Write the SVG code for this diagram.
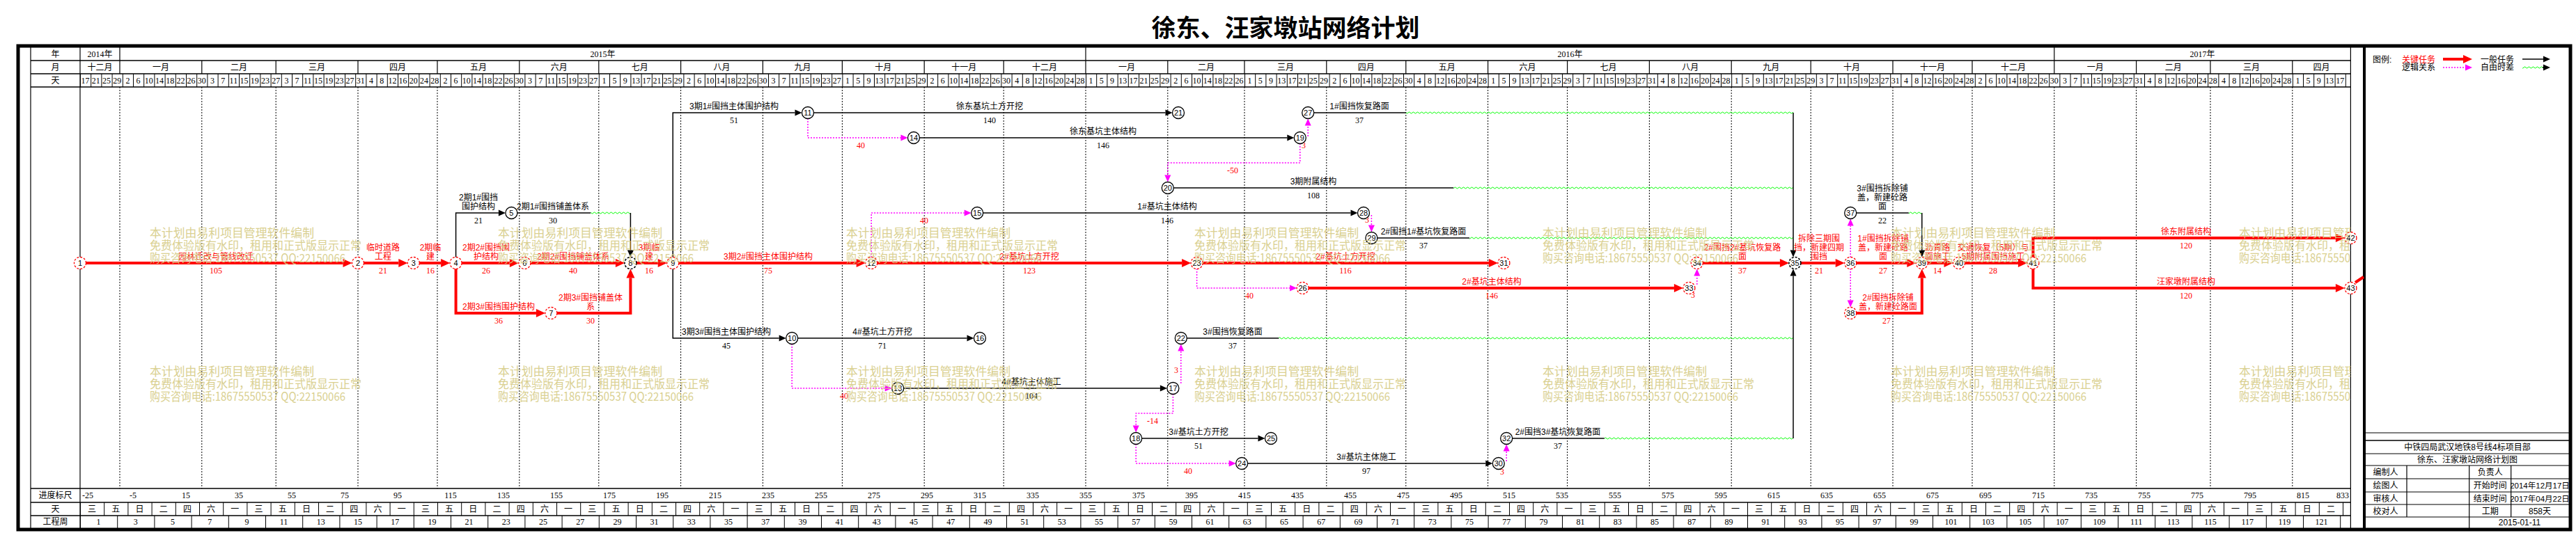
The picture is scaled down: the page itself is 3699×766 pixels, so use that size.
<svg xmlns="http://www.w3.org/2000/svg" width="3699" height="766" viewBox="0 0 3699 766">
<style>
.fr{fill:none;stroke:#000;stroke-width:5}
.ln{fill:none;stroke:#000;stroke-width:1.2}
.lt{fill:none;stroke:#000;stroke-width:1.6}
.gd{fill:none;stroke:#000;stroke-width:1;stroke-dasharray:2 2}
.hd{font-family:"Liberation Serif","Noto Sans CJK SC",serif;font-size:12px;fill:#000;text-anchor:middle}
.lb{font-family:"Liberation Sans","Noto Sans CJK SC",sans-serif;font-size:12px;text-anchor:middle}
.du{font-family:"Liberation Serif",serif;font-size:12px;text-anchor:middle}
.lg{font-family:"Liberation Sans","Noto Sans CJK SC",sans-serif;font-size:12px;fill:#000}
.tb{font-family:"Liberation Sans","Noto Sans CJK SC",sans-serif;font-size:12px;fill:#000;text-anchor:middle}
.ttl{font-family:"Noto Sans CJK SC",sans-serif;font-size:35px;font-weight:bold;fill:#000;text-anchor:middle}
.r{fill:#f00}
.k{fill:#000}
.c{fill:none;stroke:#f00;stroke-width:4;marker-end:url(#mr)}
.c0{fill:none;stroke:#f00;stroke-width:4}
.g{fill:none;stroke:#000;stroke-width:1.5;marker-end:url(#mb)}
.g0{fill:none;stroke:#000;stroke-width:1.5}
.l{fill:none;stroke:#f0f;stroke-width:1.5;stroke-dasharray:2 2;marker-end:url(#mm)}
.w{fill:url(#wave)}
.nc{fill:#fff;stroke:#f00;stroke-width:1.3;stroke-dasharray:3 2}
.ng{fill:#fff;stroke:#000;stroke-width:1.3}
.nk{fill:#fff;stroke:#000;stroke-width:1.6;stroke-dasharray:3 2}
.nn{font-family:"Liberation Sans",sans-serif;font-size:11px;text-anchor:middle;fill:#000}
.wm{font-family:"Noto Sans CJK SC",sans-serif;font-size:17px;fill:#d6cc86;opacity:.9}
</style>
<defs>
<marker id="mr" markerUnits="userSpaceOnUse" markerWidth="14" markerHeight="12" refX="0" refY="6" orient="auto" overflow="visible"><path d="M0,0 L13,6 L0,12z" fill="#f00"/></marker>
<marker id="mb" markerUnits="userSpaceOnUse" markerWidth="11" markerHeight="9" refX="0" refY="4.5" orient="auto" overflow="visible"><path d="M0,0 L10,4.5 L0,9z" fill="#000"/></marker>
<marker id="mm" markerUnits="userSpaceOnUse" markerWidth="11" markerHeight="9" refX="0" refY="4.5" orient="auto" overflow="visible"><path d="M0,0 L10,4.5 L0,9z" fill="#f0f"/></marker>
<pattern id="wave" patternUnits="userSpaceOnUse" x="0" y="-2" width="6" height="4"><path d="M0,2 Q1.5,0 3,2 T6,2" fill="none" stroke="#00ff00" stroke-width="1"/></pattern>
<pattern id="p4" patternUnits="userSpaceOnUse" x="115" y="0" width="15.2" height="20"><rect x="0" y="0" width="1" height="20" fill="#000"/></pattern>
<pattern id="p9" patternUnits="userSpaceOnUse" x="115" y="0" width="34.2" height="20"><rect x="0" y="0" width="1" height="20" fill="#000"/></pattern>
<pattern id="p14" patternUnits="userSpaceOnUse" x="115" y="0" width="53.2" height="20"><rect x="0" y="0" width="1" height="20" fill="#000"/></pattern>
<clipPath id="chart"><rect x="115" y="125" width="3260.4" height="577"/></clipPath>
</defs>
<rect x="0" y="0" width="3699" height="766" fill="#fff"/>
<text class="ttl" x="1846" y="53">徐东、汪家墩站网络计划</text>

<g id="frame">
<rect class="fr" x="26" y="66" width="3665" height="695"/>
<path class="ln" d="M44,66V761M115,68V759M3375.4,68V759"/>
<path d="M3395,66V761" stroke="#000" stroke-width="4"/>
<path class="lt" d="M44,87H3375.4M44,106H3375.4M44,125H3375.4M44,702H3375.4M44,722H3375.4M44,741H3375.4"/>
</g>

<g id="header">
<path class="ln" d="M172,68V87M1559,68V87M2949.8,68V87"/>
<path class="ln" d="M172 87V106M289.8 87V106M396.2 87V106M514 87V106M628 87V106M745.8 87V106M859.8 87V106M977.6 87V106M1095.4 87V106M1209.4 87V106M1327.2 87V106M1441.2 87V106M1559 87V106M1676.8 87V106M1787 87V106M1904.8 87V106M2018.8 87V106M2136.6 87V106M2250.6 87V106M2368.4 87V106M2486.2 87V106M2600.2 87V106M2718 87V106M2832 87V106M2949.8 87V106M3067.6 87V106M3174 87V106M3291.8 87V106"/>
<rect x="115" y="106" width="3260.4" height="19" fill="url(#p4)"/>
<text class="hd" x="79.5" y="82">年</text>
<text class="hd" x="79.5" y="101">月</text>
<text class="hd" x="79.5" y="120">天</text>
<text class="hd" y="82"><tspan x="143.5">2014年</tspan><tspan x="865.5">2015年</tspan><tspan x="2254.4">2016年</tspan><tspan x="3162.6">2017年</tspan></text>
<text class="hd" y="101"><tspan x="143.5">十二月</tspan><tspan x="230.9">一月</tspan><tspan x="343">二月</tspan><tspan x="455.1">三月</tspan><tspan x="571">四月</tspan><tspan x="686.9">五月</tspan><tspan x="802.8">六月</tspan><tspan x="918.7">七月</tspan><tspan x="1036.5">八月</tspan><tspan x="1152.4">九月</tspan><tspan x="1268.3">十月</tspan><tspan x="1384.2">十一月</tspan><tspan x="1500.1">十二月</tspan><tspan x="1617.9">一月</tspan><tspan x="1731.9">二月</tspan><tspan x="1845.9">三月</tspan><tspan x="1961.8">四月</tspan><tspan x="2077.7">五月</tspan><tspan x="2193.6">六月</tspan><tspan x="2309.5">七月</tspan><tspan x="2427.3">八月</tspan><tspan x="2543.2">九月</tspan><tspan x="2659.1">十月</tspan><tspan x="2775">十一月</tspan><tspan x="2890.9">十二月</tspan><tspan x="3008.7">一月</tspan><tspan x="3120.8">二月</tspan><tspan x="3232.9">三月</tspan><tspan x="3333.6">四月</tspan></text>
<text class="hd" y="120"><tspan x="122.6">17</tspan><tspan x="137.8">21</tspan><tspan x="153">25</tspan><tspan x="168.2">29</tspan><tspan x="183.4">2</tspan><tspan x="198.6">6</tspan><tspan x="213.8">10</tspan><tspan x="229">14</tspan><tspan x="244.2">18</tspan><tspan x="259.4">22</tspan><tspan x="274.6">26</tspan><tspan x="289.8">30</tspan><tspan x="305">3</tspan><tspan x="320.2">7</tspan><tspan x="335.4">11</tspan><tspan x="350.6">15</tspan><tspan x="365.8">19</tspan><tspan x="381">23</tspan><tspan x="396.2">27</tspan><tspan x="411.4">3</tspan><tspan x="426.6">7</tspan><tspan x="441.8">11</tspan><tspan x="457">15</tspan><tspan x="472.2">19</tspan><tspan x="487.4">23</tspan><tspan x="502.6">27</tspan><tspan x="517.8">31</tspan><tspan x="533">4</tspan><tspan x="548.2">8</tspan><tspan x="563.4">12</tspan><tspan x="578.6">16</tspan><tspan x="593.8">20</tspan><tspan x="609">24</tspan><tspan x="624.2">28</tspan><tspan x="639.4">2</tspan><tspan x="654.6">6</tspan><tspan x="669.8">10</tspan><tspan x="685">14</tspan><tspan x="700.2">18</tspan><tspan x="715.4">22</tspan><tspan x="730.6">26</tspan><tspan x="745.8">30</tspan><tspan x="761">3</tspan><tspan x="776.2">7</tspan><tspan x="791.4">11</tspan><tspan x="806.6">15</tspan><tspan x="821.8">19</tspan><tspan x="837">23</tspan><tspan x="852.2">27</tspan><tspan x="867.4">1</tspan><tspan x="882.6">5</tspan><tspan x="897.8">9</tspan><tspan x="913">13</tspan><tspan x="928.2">17</tspan><tspan x="943.4">21</tspan><tspan x="958.6">25</tspan><tspan x="973.8">29</tspan><tspan x="989">2</tspan><tspan x="1004.2">6</tspan><tspan x="1019.4">10</tspan><tspan x="1034.6">14</tspan><tspan x="1049.8">18</tspan><tspan x="1065">22</tspan><tspan x="1080.2">26</tspan><tspan x="1095.4">30</tspan><tspan x="1110.6">3</tspan><tspan x="1125.8">7</tspan><tspan x="1141">11</tspan><tspan x="1156.2">15</tspan><tspan x="1171.4">19</tspan><tspan x="1186.6">23</tspan><tspan x="1201.8">27</tspan><tspan x="1217">1</tspan><tspan x="1232.2">5</tspan><tspan x="1247.4">9</tspan><tspan x="1262.6">13</tspan><tspan x="1277.8">17</tspan><tspan x="1293">21</tspan><tspan x="1308.2">25</tspan><tspan x="1323.4">29</tspan><tspan x="1338.6">2</tspan><tspan x="1353.8">6</tspan><tspan x="1369">10</tspan><tspan x="1384.2">14</tspan><tspan x="1399.4">18</tspan><tspan x="1414.6">22</tspan><tspan x="1429.8">26</tspan><tspan x="1445">30</tspan><tspan x="1460.2">4</tspan><tspan x="1475.4">8</tspan><tspan x="1490.6">12</tspan><tspan x="1505.8">16</tspan><tspan x="1521">20</tspan><tspan x="1536.2">24</tspan><tspan x="1551.4">28</tspan><tspan x="1566.6">1</tspan><tspan x="1581.8">5</tspan><tspan x="1597">9</tspan><tspan x="1612.2">13</tspan><tspan x="1627.4">17</tspan><tspan x="1642.6">21</tspan><tspan x="1657.8">25</tspan><tspan x="1673">29</tspan><tspan x="1688.2">2</tspan><tspan x="1703.4">6</tspan><tspan x="1718.6">10</tspan><tspan x="1733.8">14</tspan><tspan x="1749">18</tspan><tspan x="1764.2">22</tspan><tspan x="1779.4">26</tspan><tspan x="1794.6">1</tspan><tspan x="1809.8">5</tspan><tspan x="1825">9</tspan><tspan x="1840.2">13</tspan><tspan x="1855.4">17</tspan><tspan x="1870.6">21</tspan><tspan x="1885.8">25</tspan><tspan x="1901">29</tspan><tspan x="1916.2">2</tspan><tspan x="1931.4">6</tspan><tspan x="1946.6">10</tspan><tspan x="1961.8">14</tspan><tspan x="1977">18</tspan><tspan x="1992.2">22</tspan><tspan x="2007.4">26</tspan><tspan x="2022.6">30</tspan><tspan x="2037.8">4</tspan><tspan x="2053">8</tspan><tspan x="2068.2">12</tspan><tspan x="2083.4">16</tspan><tspan x="2098.6">20</tspan><tspan x="2113.8">24</tspan><tspan x="2129">28</tspan><tspan x="2144.2">1</tspan><tspan x="2159.4">5</tspan><tspan x="2174.6">9</tspan><tspan x="2189.8">13</tspan><tspan x="2205">17</tspan><tspan x="2220.2">21</tspan><tspan x="2235.4">25</tspan><tspan x="2250.6">29</tspan><tspan x="2265.8">3</tspan><tspan x="2281">7</tspan><tspan x="2296.2">11</tspan><tspan x="2311.4">15</tspan><tspan x="2326.6">19</tspan><tspan x="2341.8">23</tspan><tspan x="2357">27</tspan><tspan x="2372.2">31</tspan><tspan x="2387.4">4</tspan><tspan x="2402.6">8</tspan><tspan x="2417.8">12</tspan><tspan x="2433">16</tspan><tspan x="2448.2">20</tspan><tspan x="2463.4">24</tspan><tspan x="2478.6">28</tspan><tspan x="2493.8">1</tspan><tspan x="2509">5</tspan><tspan x="2524.2">9</tspan><tspan x="2539.4">13</tspan><tspan x="2554.6">17</tspan><tspan x="2569.8">21</tspan><tspan x="2585">25</tspan><tspan x="2600.2">29</tspan><tspan x="2615.4">3</tspan><tspan x="2630.6">7</tspan><tspan x="2645.8">11</tspan><tspan x="2661">15</tspan><tspan x="2676.2">19</tspan><tspan x="2691.4">23</tspan><tspan x="2706.6">27</tspan><tspan x="2721.8">31</tspan><tspan x="2737">4</tspan><tspan x="2752.2">8</tspan><tspan x="2767.4">12</tspan><tspan x="2782.6">16</tspan><tspan x="2797.8">20</tspan><tspan x="2813">24</tspan><tspan x="2828.2">28</tspan><tspan x="2843.4">2</tspan><tspan x="2858.6">6</tspan><tspan x="2873.8">10</tspan><tspan x="2889">14</tspan><tspan x="2904.2">18</tspan><tspan x="2919.4">22</tspan><tspan x="2934.6">26</tspan><tspan x="2949.8">30</tspan><tspan x="2965">3</tspan><tspan x="2980.2">7</tspan><tspan x="2995.4">11</tspan><tspan x="3010.6">15</tspan><tspan x="3025.8">19</tspan><tspan x="3041">23</tspan><tspan x="3056.2">27</tspan><tspan x="3071.4">31</tspan><tspan x="3086.6">4</tspan><tspan x="3101.8">8</tspan><tspan x="3117">12</tspan><tspan x="3132.2">16</tspan><tspan x="3147.4">20</tspan><tspan x="3162.6">24</tspan><tspan x="3177.8">28</tspan><tspan x="3193">4</tspan><tspan x="3208.2">8</tspan><tspan x="3223.4">12</tspan><tspan x="3238.6">16</tspan><tspan x="3253.8">20</tspan><tspan x="3269">24</tspan><tspan x="3284.2">28</tspan><tspan x="3299.4">1</tspan><tspan x="3314.6">5</tspan><tspan x="3329.8">9</tspan><tspan x="3345">13</tspan><tspan x="3360.2">17</tspan></text>
</g>

<g id="grid">
<path class="gd" d="M172 125V702M289.8 125V702M396.2 125V702M514 125V702M628 125V702M745.8 125V702M859.8 125V702M977.6 125V702M1095.4 125V702M1209.4 125V702M1327.2 125V702M1441.2 125V702M1559 125V702M1676.8 125V702M1787 125V702M1904.8 125V702M2018.8 125V702M2136.6 125V702M2250.6 125V702M2368.4 125V702M2486.2 125V702M2600.2 125V702M2718 125V702M2832 125V702M2949.8 125V702M3067.6 125V702M3174 125V702M3291.8 125V702"/>
</g>

<g id="bottom-rows">
<rect x="115" y="722" width="3260.4" height="19" fill="url(#p9)"/>
<rect x="115" y="741" width="3260.4" height="18" fill="url(#p14)"/>
<text class="hd" x="79.5" y="716">进度标尺</text>
<text class="hd" x="79.5" y="736">天</text>
<text class="hd" x="79.5" y="754">工程周</text>
<text class="hd" y="716"><tspan x="126">-25</tspan><tspan x="191">-5</tspan><tspan x="267">15</tspan><tspan x="343">35</tspan><tspan x="419">55</tspan><tspan x="495">75</tspan><tspan x="571">95</tspan><tspan x="647">115</tspan><tspan x="723">135</tspan><tspan x="799">155</tspan><tspan x="875">175</tspan><tspan x="951">195</tspan><tspan x="1027">215</tspan><tspan x="1103">235</tspan><tspan x="1179">255</tspan><tspan x="1255">275</tspan><tspan x="1331">295</tspan><tspan x="1407">315</tspan><tspan x="1483">335</tspan><tspan x="1559">355</tspan><tspan x="1635">375</tspan><tspan x="1711">395</tspan><tspan x="1787">415</tspan><tspan x="1863">435</tspan><tspan x="1939">455</tspan><tspan x="2015">475</tspan><tspan x="2091">495</tspan><tspan x="2167">515</tspan><tspan x="2243">535</tspan><tspan x="2319">555</tspan><tspan x="2395">575</tspan><tspan x="2471">595</tspan><tspan x="2547">615</tspan><tspan x="2623">635</tspan><tspan x="2699">655</tspan><tspan x="2775">675</tspan><tspan x="2851">695</tspan><tspan x="2927">715</tspan><tspan x="3003">735</tspan><tspan x="3079">755</tspan><tspan x="3155">775</tspan><tspan x="3231">795</tspan><tspan x="3307">815</tspan><tspan x="3364">833</tspan></text>
<text class="hd" y="736"><tspan x="132.1">三</tspan><tspan x="166.3">五</tspan><tspan x="200.5">日</tspan><tspan x="234.7">二</tspan><tspan x="268.9">四</tspan><tspan x="303.1">六</tspan><tspan x="337.3">一</tspan><tspan x="371.5">三</tspan><tspan x="405.7">五</tspan><tspan x="439.9">日</tspan><tspan x="474.1">二</tspan><tspan x="508.3">四</tspan><tspan x="542.5">六</tspan><tspan x="576.7">一</tspan><tspan x="610.9">三</tspan><tspan x="645.1">五</tspan><tspan x="679.3">日</tspan><tspan x="713.5">二</tspan><tspan x="747.7">四</tspan><tspan x="781.9">六</tspan><tspan x="816.1">一</tspan><tspan x="850.3">三</tspan><tspan x="884.5">五</tspan><tspan x="918.7">日</tspan><tspan x="952.9">二</tspan><tspan x="987.1">四</tspan><tspan x="1021.3">六</tspan><tspan x="1055.5">一</tspan><tspan x="1089.7">三</tspan><tspan x="1123.9">五</tspan><tspan x="1158.1">日</tspan><tspan x="1192.3">二</tspan><tspan x="1226.5">四</tspan><tspan x="1260.7">六</tspan><tspan x="1294.9">一</tspan><tspan x="1329.1">三</tspan><tspan x="1363.3">五</tspan><tspan x="1397.5">日</tspan><tspan x="1431.7">二</tspan><tspan x="1465.9">四</tspan><tspan x="1500.1">六</tspan><tspan x="1534.3">一</tspan><tspan x="1568.5">三</tspan><tspan x="1602.7">五</tspan><tspan x="1636.9">日</tspan><tspan x="1671.1">二</tspan><tspan x="1705.3">四</tspan><tspan x="1739.5">六</tspan><tspan x="1773.7">一</tspan><tspan x="1807.9">三</tspan><tspan x="1842.1">五</tspan><tspan x="1876.3">日</tspan><tspan x="1910.5">二</tspan><tspan x="1944.7">四</tspan><tspan x="1978.9">六</tspan><tspan x="2013.1">一</tspan><tspan x="2047.3">三</tspan><tspan x="2081.5">五</tspan><tspan x="2115.7">日</tspan><tspan x="2149.9">二</tspan><tspan x="2184.1">四</tspan><tspan x="2218.3">六</tspan><tspan x="2252.5">一</tspan><tspan x="2286.7">三</tspan><tspan x="2320.9">五</tspan><tspan x="2355.1">日</tspan><tspan x="2389.3">二</tspan><tspan x="2423.5">四</tspan><tspan x="2457.7">六</tspan><tspan x="2491.9">一</tspan><tspan x="2526.1">三</tspan><tspan x="2560.3">五</tspan><tspan x="2594.5">日</tspan><tspan x="2628.7">二</tspan><tspan x="2662.9">四</tspan><tspan x="2697.1">六</tspan><tspan x="2731.3">一</tspan><tspan x="2765.5">三</tspan><tspan x="2799.7">五</tspan><tspan x="2833.9">日</tspan><tspan x="2868.1">二</tspan><tspan x="2902.3">四</tspan><tspan x="2936.5">六</tspan><tspan x="2970.7">一</tspan><tspan x="3004.9">三</tspan><tspan x="3039.1">五</tspan><tspan x="3073.3">日</tspan><tspan x="3107.5">二</tspan><tspan x="3141.7">四</tspan><tspan x="3175.9">六</tspan><tspan x="3210.1">一</tspan><tspan x="3244.3">三</tspan><tspan x="3278.5">五</tspan><tspan x="3312.7">日</tspan><tspan x="3346.9">二</tspan></text>
<text class="hd" y="754"><tspan x="141.6">1</tspan><tspan x="194.8">3</tspan><tspan x="248">5</tspan><tspan x="301.2">7</tspan><tspan x="354.4">9</tspan><tspan x="407.6">11</tspan><tspan x="460.8">13</tspan><tspan x="514">15</tspan><tspan x="567.2">17</tspan><tspan x="620.4">19</tspan><tspan x="673.6">21</tspan><tspan x="726.8">23</tspan><tspan x="780">25</tspan><tspan x="833.2">27</tspan><tspan x="886.4">29</tspan><tspan x="939.6">31</tspan><tspan x="992.8">33</tspan><tspan x="1046">35</tspan><tspan x="1099.2">37</tspan><tspan x="1152.4">39</tspan><tspan x="1205.6">41</tspan><tspan x="1258.8">43</tspan><tspan x="1312">45</tspan><tspan x="1365.2">47</tspan><tspan x="1418.4">49</tspan><tspan x="1471.6">51</tspan><tspan x="1524.8">53</tspan><tspan x="1578">55</tspan><tspan x="1631.2">57</tspan><tspan x="1684.4">59</tspan><tspan x="1737.6">61</tspan><tspan x="1790.8">63</tspan><tspan x="1844">65</tspan><tspan x="1897.2">67</tspan><tspan x="1950.4">69</tspan><tspan x="2003.6">71</tspan><tspan x="2056.8">73</tspan><tspan x="2110">75</tspan><tspan x="2163.2">77</tspan><tspan x="2216.4">79</tspan><tspan x="2269.6">81</tspan><tspan x="2322.8">83</tspan><tspan x="2376">85</tspan><tspan x="2429.2">87</tspan><tspan x="2482.4">89</tspan><tspan x="2535.6">91</tspan><tspan x="2588.8">93</tspan><tspan x="2642">95</tspan><tspan x="2695.2">97</tspan><tspan x="2748.4">99</tspan><tspan x="2801.6">101</tspan><tspan x="2854.8">103</tspan><tspan x="2908">105</tspan><tspan x="2961.2">107</tspan><tspan x="3014.4">109</tspan><tspan x="3067.6">111</tspan><tspan x="3120.8">113</tspan><tspan x="3174">115</tspan><tspan x="3227.2">117</tspan><tspan x="3280.4">119</tspan><tspan x="3333.6">121</tspan></text>
</g>

<g id="connectors">
<path class="c" d="M115,378H492.5"/>
<path class="c" d="M514,378H572.3"/>
<path class="c" d="M593.8,378H633.1"/>
<path class="c" d="M654.6,378H731.9"/>
<path class="c" d="M753.4,378H883.9"/>
<path class="c" d="M654.6,378V450H769.9"/>
<path class="c" d="M791.4,450H905.4V399.5"/>
<path class="c" d="M905.4,378H944.7"/>
<path class="c" d="M966.2,378H1229.7"/>
<path class="c" d="M1251.2,378H1697.1"/>
<path class="c" d="M1718.6,378H2137.9"/>
<path class="c" d="M1870.6,414H2403.9"/>
<path class="c" d="M2436.8,378H2555.9"/>
<path class="c" d="M2577.4,378H2635.7"/>
<path class="c" d="M2657.2,378H2738.3"/>
<path class="c" d="M2657.2,450H2759.8V399.5"/>
<path class="c" d="M2759.8,378H2791.5"/>
<path class="c" d="M2813,378H2897.9"/>
<path class="c" d="M2919.4,378V342H3353.9"/>
<path class="c" d="M2919.4,378V414H3353.9"/>
<path class="c0" d="M3382,406L3394,398"/>
<path class="g" d="M654.6,378V306H715.9"/>
<path class="g0" d="M734.4,306H848.2"/>
<rect class="w" transform="translate(0,306)" x="848.2" y="-2" width="57.2" height="4"/>
<path class="g" d="M905.4,306V359.5"/>
<path class="g" d="M966.2,378V162H1141.5"/>
<path class="g" d="M966.2,378V486H1118.7"/>
<path class="g" d="M1160,162H1673.5"/>
<path class="g" d="M1312,198H1848.3"/>
<path class="g0" d="M1676.8,270H2087.2"/>
<rect class="w" transform="translate(0,270)" x="2087.2" y="-2" width="487.8" height="4"/>
<path class="g0" d="M1878.2,162H2018.8"/>
<rect class="w" transform="translate(0,162)" x="2018.8" y="-2" width="556.2" height="4"/>
<path class="g" d="M1403.2,306H1939.5"/>
<path class="g0" d="M1969.4,342H2110"/>
<rect class="w" transform="translate(0,342)" x="2110" y="-2" width="465" height="4"/>
<path class="g" d="M1137.2,486H1388.5"/>
<path class="g" d="M1289.2,558H1665.9"/>
<path class="g0" d="M1695.8,486H1836.4"/>
<rect class="w" transform="translate(0,486)" x="1836.4" y="-2" width="738.6" height="4"/>
<path class="g" d="M1631.2,630H1806.5"/>
<path class="g" d="M1783.2,666H2133.3"/>
<path class="g0" d="M2163.2,630H2303.8"/>
<rect class="w" transform="translate(0,630)" x="2303.8" y="-2" width="271.2" height="4"/>
<path class="g0" d="M2657.2,306H2740.8"/>
<rect class="w" transform="translate(0,306)" x="2740.8" y="-2" width="19" height="4"/>
<path class="g" d="M2759.8,306V359.5"/>
<path class="g" d="M2575,162V359.5"/>
<path class="g" d="M2575,630V396.5"/>
<path class="l" d="M1160,162V198H1293.5"/>
<path class="l" d="M1251.2,378V306H1384.7"/>
<path class="l" d="M1137.2,486V558H1270.7"/>
<path class="l" d="M1695.8,551V504.5"/>
<path class="l" d="M1684.4,558V594H1631.2V611.5"/>
<path class="l" d="M1631.2,630V666H1764.7"/>
<path class="l" d="M2163.2,663V648.5"/>
<path class="l" d="M1969.4,309V323.5"/>
<path class="l" d="M1878.2,196V180.5"/>
<path class="l" d="M1866.8,198V234H1676.8V251.5"/>
<path class="l" d="M1718.6,378V414H1852.1"/>
<path class="l" d="M2436.8,409V396.5"/>
<path class="l" d="M2657.2,378V324.5"/>
<path class="l" d="M2657.2,378V431.5"/>
</g>

<g id="connector-labels">
<text class="lb r" x="310" y="373">园林迁改与管线改迁</text><text class="du r" x="310" y="393">105</text>
<text class="lb r" x="550" y="360"><tspan x="550">临时道路</tspan><tspan x="550" dy="13">工程</tspan></text><text class="du r" x="550" y="393">21</text>
<text class="lb r" x="618" y="360"><tspan x="618">2期临</tspan><tspan x="618" dy="13">建</tspan></text><text class="du r" x="618" y="393">16</text>
<text class="lb r" x="698" y="360"><tspan x="698">2期2#围挡围</tspan><tspan x="698" dy="13">护结构</tspan></text><text class="du r" x="698" y="393">26</text>
<text class="lb r" x="823" y="373">2期2#围挡铺盖体系</text><text class="du r" x="823" y="393">40</text>
<text class="lb r" x="716" y="445">2期3#围挡围护结构</text><text class="du r" x="716" y="465">36</text>
<text class="lb r" x="848" y="432"><tspan x="848">2期3#围挡铺盖体</tspan><tspan x="848" dy="13">系</tspan></text><text class="du r" x="848" y="465">30</text>
<text class="lb r" x="932" y="360"><tspan x="932">3期临</tspan><tspan x="932" dy="13">建</tspan></text><text class="du r" x="932" y="393">16</text>
<text class="lb r" x="1103" y="373">3期2#围挡主体围护结构</text><text class="du r" x="1103" y="393">75</text>
<text class="lb r" x="1478" y="373">2#基坑土方开挖</text><text class="du r" x="1478" y="393">123</text>
<text class="lb r" x="1932" y="373">2#基坑土方开挖</text><text class="du r" x="1932" y="393">116</text>
<text class="lb r" x="2142" y="409">2#基坑主体结构</text><text class="du r" x="2142" y="429">146</text>
<text class="lb r" x="2502" y="360"><tspan x="2502">2#围挡2#基坑恢复路</tspan><tspan x="2502" dy="13">面</tspan></text><text class="du r" x="2502" y="393">37</text>
<text class="lb r" x="2612" y="347"><tspan x="2612">拆除三期围</tspan><tspan x="2612" dy="13">挡，新建四期</tspan><tspan x="2612" dy="13">围挡</tspan></text><text class="du r" x="2612" y="393">21</text>
<text class="lb r" x="2704" y="347"><tspan x="2704">1#围挡拆除铺</tspan><tspan x="2704" dy="13">盖，新建砼路</tspan><tspan x="2704" dy="13">面</tspan></text><text class="du r" x="2704" y="393">27</text>
<text class="lb r" x="2711" y="432"><tspan x="2711">2#围挡拆除铺</tspan><tspan x="2711" dy="13">盖，新建砼路面</tspan></text><text class="du r" x="2709" y="465">27</text>
<text class="lb r" x="2782" y="360"><tspan x="2782">沥青路</tspan><tspan x="2782" dy="13">面施工</tspan></text><text class="du r" x="2782" y="393">14</text>
<text class="lb r" x="2862" y="360"><tspan x="2862">交通恢复（5期）与</tspan><tspan x="2862" dy="13">5期附属围挡施工</tspan></text><text class="du r" x="2862" y="393">28</text>
<text class="lb r" x="3139" y="337">徐东附属结构</text><text class="du r" x="3139" y="357">120</text>
<text class="lb r" x="3139" y="409">汪家墩附属结构</text><text class="du r" x="3139" y="429">120</text>
<text class="lb k" x="687" y="288"><tspan x="687">2期1#围挡</tspan><tspan x="687" dy="13">围护结构</tspan></text><text class="du k" x="687" y="321">21</text>
<text class="lb k" x="794" y="301">2期1#围挡铺盖体系</text><text class="du k" x="794" y="321">30</text>
<text class="lb k" x="1054" y="157">3期1#围挡主体围护结构</text><text class="du k" x="1054" y="177">51</text>
<text class="lb k" x="1043" y="481">3期3#围挡主体围护结构</text><text class="du k" x="1043" y="501">45</text>
<text class="lb k" x="1421" y="157">徐东基坑土方开挖</text><text class="du k" x="1421" y="177">140</text>
<text class="lb k" x="1584" y="193">徐东基坑主体结构</text><text class="du k" x="1584" y="213">146</text>
<text class="lb k" x="1886" y="265">3期附属结构</text><text class="du k" x="1886" y="285">108</text>
<text class="lb k" x="1952" y="157">1#围挡恢复路面</text><text class="du k" x="1952" y="177">37</text>
<text class="lb k" x="1676" y="301">1#基坑主体结构</text><text class="du k" x="1676" y="321">146</text>
<text class="lb k" x="2044" y="337">2#围挡1#基坑恢复路面</text><text class="du k" x="2044" y="357">37</text>
<text class="lb k" x="1267" y="481">4#基坑土方开挖</text><text class="du k" x="1267" y="501">71</text>
<text class="lb k" x="1481" y="553">4#基坑主体施工</text><text class="du k" x="1481" y="573">104</text>
<text class="lb k" x="1770" y="481">3#围挡恢复路面</text><text class="du k" x="1770" y="501">37</text>
<text class="lb k" x="1721" y="625">3#基坑土方开挖</text><text class="du k" x="1721" y="645">51</text>
<text class="lb k" x="1962" y="661">3#基坑主体施工</text><text class="du k" x="1962" y="681">97</text>
<text class="lb k" x="2237" y="625">2#围挡3#基坑恢复路面</text><text class="du k" x="2237" y="645">37</text>
<text class="lb k" x="2703" y="275"><tspan x="2703">3#围挡拆除铺</tspan><tspan x="2703" dy="13">盖，新建砼路</tspan><tspan x="2703" dy="13">面</tspan></text><text class="du k" x="2703" y="321">22</text>
<text class="du r" x="1236" y="213">40</text>
<text class="du r" x="1327" y="321">40</text>
<text class="du r" x="1212" y="573">40</text>
<text class="du r" x="1689" y="536">3</text>
<text class="du r" x="1655" y="609">-14</text>
<text class="du r" x="1706" y="681">40</text>
<text class="du r" x="2157" y="682">3</text>
<text class="du r" x="1963" y="320">3</text>
<text class="du r" x="1872" y="213">3</text>
<text class="du r" x="1770" y="249">-50</text>
<text class="du r" x="1794" y="429">40</text>
<text class="du r" x="2431" y="428">3</text>
</g>

<g id="node-1"><circle class="nc" cx="115" cy="378" r="8.5"/><text class="nn" x="115" y="382">1</text></g>
<g id="node-2"><circle class="nc" cx="514" cy="378" r="8.5"/><text class="nn" x="514" y="382">2</text></g>
<g id="node-3"><circle class="nc" cx="593.8" cy="378" r="8.5"/><text class="nn" x="593.8" y="382">3</text></g>
<g id="node-4"><circle class="nc" cx="654.6" cy="378" r="8.5"/><text class="nn" x="654.6" y="382">4</text></g>
<g id="node-5"><circle class="ng" cx="734.4" cy="306" r="8.5"/><text class="nn" x="734.4" y="310">5</text></g>
<g id="node-6"><circle class="nc" cx="753.4" cy="378" r="8.5"/><text class="nn" x="753.4" y="382">6</text></g>
<g id="node-7"><circle class="nc" cx="791.4" cy="450" r="8.5"/><text class="nn" x="791.4" y="454">7</text></g>
<g id="node-8"><circle class="nk" cx="905.4" cy="378" r="8.5"/><text class="nn" x="905.4" y="382">8</text></g>
<g id="node-9"><circle class="nc" cx="966.2" cy="378" r="8.5"/><text class="nn" x="966.2" y="382">9</text></g>
<g id="node-10"><circle class="ng" cx="1137.2" cy="486" r="8.5"/><text class="nn" x="1137.2" y="490">10</text></g>
<g id="node-11"><circle class="ng" cx="1160" cy="162" r="8.5"/><text class="nn" x="1160" y="166">11</text></g>
<g id="node-12"><circle class="nc" cx="1251.2" cy="378" r="8.5"/><text class="nn" x="1251.2" y="382">12</text></g>
<g id="node-13"><circle class="ng" cx="1289.2" cy="558" r="8.5"/><text class="nn" x="1289.2" y="562">13</text></g>
<g id="node-14"><circle class="ng" cx="1312" cy="198" r="8.5"/><text class="nn" x="1312" y="202">14</text></g>
<g id="node-15"><circle class="ng" cx="1403.2" cy="306" r="8.5"/><text class="nn" x="1403.2" y="310">15</text></g>
<g id="node-16"><circle class="ng" cx="1407" cy="486" r="8.5"/><text class="nn" x="1407" y="490">16</text></g>
<g id="node-17"><circle class="ng" cx="1684.4" cy="558" r="8.5"/><text class="nn" x="1684.4" y="562">17</text></g>
<g id="node-18"><circle class="ng" cx="1631.2" cy="630" r="8.5"/><text class="nn" x="1631.2" y="634">18</text></g>
<g id="node-19"><circle class="ng" cx="1866.8" cy="198" r="8.5"/><text class="nn" x="1866.8" y="202">19</text></g>
<g id="node-20"><circle class="ng" cx="1676.8" cy="270" r="8.5"/><text class="nn" x="1676.8" y="274">20</text></g>
<g id="node-21"><circle class="ng" cx="1692" cy="162" r="8.5"/><text class="nn" x="1692" y="166">21</text></g>
<g id="node-22"><circle class="ng" cx="1695.8" cy="486" r="8.5"/><text class="nn" x="1695.8" y="490">22</text></g>
<g id="node-23"><circle class="nc" cx="1718.6" cy="378" r="8.5"/><text class="nn" x="1718.6" y="382">23</text></g>
<g id="node-24"><circle class="ng" cx="1783.2" cy="666" r="8.5"/><text class="nn" x="1783.2" y="670">24</text></g>
<g id="node-25"><circle class="ng" cx="1825" cy="630" r="8.5"/><text class="nn" x="1825" y="634">25</text></g>
<g id="node-26"><circle class="nc" cx="1870.6" cy="414" r="8.5"/><text class="nn" x="1870.6" y="418">26</text></g>
<g id="node-27"><circle class="ng" cx="1878.2" cy="162" r="8.5"/><text class="nn" x="1878.2" y="166">27</text></g>
<g id="node-28"><circle class="ng" cx="1958" cy="306" r="8.5"/><text class="nn" x="1958" y="310">28</text></g>
<g id="node-29"><circle class="ng" cx="1969.4" cy="342" r="8.5"/><text class="nn" x="1969.4" y="346">29</text></g>
<g id="node-30"><circle class="ng" cx="2151.8" cy="666" r="8.5"/><text class="nn" x="2151.8" y="670">30</text></g>
<g id="node-31"><circle class="nc" cx="2159.4" cy="378" r="8.5"/><text class="nn" x="2159.4" y="382">31</text></g>
<g id="node-32"><circle class="ng" cx="2163.2" cy="630" r="8.5"/><text class="nn" x="2163.2" y="634">32</text></g>
<g id="node-33"><circle class="nc" cx="2425.4" cy="414" r="8.5"/><text class="nn" x="2425.4" y="418">33</text></g>
<g id="node-34"><circle class="nc" cx="2436.8" cy="378" r="8.5"/><text class="nn" x="2436.8" y="382">34</text></g>
<g id="node-35"><circle class="nk" cx="2577.4" cy="378" r="8.5"/><text class="nn" x="2577.4" y="382">35</text></g>
<g id="node-36"><circle class="nc" cx="2657.2" cy="378" r="8.5"/><text class="nn" x="2657.2" y="382">36</text></g>
<g id="node-37"><circle class="ng" cx="2657.2" cy="306" r="8.5"/><text class="nn" x="2657.2" y="310">37</text></g>
<g id="node-38"><circle class="nc" cx="2657.2" cy="450" r="8.5"/><text class="nn" x="2657.2" y="454">38</text></g>
<g id="node-39"><circle class="nc" cx="2759.8" cy="378" r="8.5"/><text class="nn" x="2759.8" y="382">39</text></g>
<g id="node-40"><circle class="nc" cx="2813" cy="378" r="8.5"/><text class="nn" x="2813" y="382">40</text></g>
<g id="node-41"><circle class="nc" cx="2919.4" cy="378" r="8.5"/><text class="nn" x="2919.4" y="382">41</text></g>
<g id="node-42"><circle class="nc" cx="3375.4" cy="342" r="8.5"/><text class="nn" x="3375.4" y="346">42</text></g>
<g id="node-43"><circle class="nc" cx="3375.4" cy="414" r="8.5"/><text class="nn" x="3375.4" y="418">43</text></g>

<g id="legend">
<text class="lg" x="3407" y="89.5">图例:</text>
<text class="lg r" x="3449" y="89.5">关键任务</text>
<text class="lg" x="3449" y="101">逻辑关系</text>
<path class="c" d="M3508,85H3537"/>
<path class="l" d="M3508,97H3540"/>
<text class="lg" x="3562" y="89.5">一般任务</text>
<text class="lg" x="3562" y="101">自由时差</text>
<path class="g" d="M3622,85H3652"/>
<rect class="w" transform="translate(0,97)" x="3622" y="-2" width="30" height="4"/>
<path class="g" d="M3651,97H3652"/>
</g>

<g id="title-block">
<path class="ln" d="M3395,622H3691M3395,652H3691M3395,669H3691M3395,688H3691M3395,707H3691M3395,725H3691M3395,743H3691"/>
<path class="lt" d="M3395,633H3691"/>
<path class="ln" d="M3456,669V743M3545.7,669V761M3605.7,669V743"/>
<text class="tb" x="3543" y="646.5">中铁四局武汉地铁8号线4标项目部</text>
<text class="tb" x="3543" y="665">徐东、汪家墩站网络计划图</text>
<text class="tb" x="3425.5" y="683">编制人</text><text class="tb" x="3575.7" y="683">负责人</text>
<text class="tb" x="3425.5" y="702">绘图人</text><text class="tb" x="3575.7" y="702">开始时间</text><text class="tb" x="3647" y="702" style="font-size:11.5px">2014年12月17日</text>
<text class="tb" x="3425.5" y="720.5">审核人</text><text class="tb" x="3575.7" y="720.5">结束时间</text><text class="tb" x="3647" y="720.5" style="font-size:11.5px">2017年04月22日</text>
<text class="tb" x="3425.5" y="738.5">校对人</text><text class="tb" x="3575.7" y="738.5">工期</text><text class="tb" x="3647" y="738.5">858天</text>
<text class="tb" x="3618" y="755">2015-01-11</text>
</g>

<g id="watermarks" clip-path="url(#chart)">
<text class="wm" x="215" y="341" textLength="236" lengthAdjust="spacingAndGlyphs">本计划由易利项目管理软件编制</text>
<text class="wm" x="215" y="359" textLength="304" lengthAdjust="spacingAndGlyphs">免费体验版有水印，租用和正式版显示正常</text>
<text class="wm" x="215" y="377" textLength="281" lengthAdjust="spacingAndGlyphs">购买咨询电话:18675550537 QQ:22150066</text>
<text class="wm" x="715" y="341" textLength="236" lengthAdjust="spacingAndGlyphs">本计划由易利项目管理软件编制</text>
<text class="wm" x="715" y="359" textLength="304" lengthAdjust="spacingAndGlyphs">免费体验版有水印，租用和正式版显示正常</text>
<text class="wm" x="715" y="377" textLength="281" lengthAdjust="spacingAndGlyphs">购买咨询电话:18675550537 QQ:22150066</text>
<text class="wm" x="1215" y="341" textLength="236" lengthAdjust="spacingAndGlyphs">本计划由易利项目管理软件编制</text>
<text class="wm" x="1215" y="359" textLength="304" lengthAdjust="spacingAndGlyphs">免费体验版有水印，租用和正式版显示正常</text>
<text class="wm" x="1215" y="377" textLength="281" lengthAdjust="spacingAndGlyphs">购买咨询电话:18675550537 QQ:22150066</text>
<text class="wm" x="1715" y="341" textLength="236" lengthAdjust="spacingAndGlyphs">本计划由易利项目管理软件编制</text>
<text class="wm" x="1715" y="359" textLength="304" lengthAdjust="spacingAndGlyphs">免费体验版有水印，租用和正式版显示正常</text>
<text class="wm" x="1715" y="377" textLength="281" lengthAdjust="spacingAndGlyphs">购买咨询电话:18675550537 QQ:22150066</text>
<text class="wm" x="2215" y="341" textLength="236" lengthAdjust="spacingAndGlyphs">本计划由易利项目管理软件编制</text>
<text class="wm" x="2215" y="359" textLength="304" lengthAdjust="spacingAndGlyphs">免费体验版有水印，租用和正式版显示正常</text>
<text class="wm" x="2215" y="377" textLength="281" lengthAdjust="spacingAndGlyphs">购买咨询电话:18675550537 QQ:22150066</text>
<text class="wm" x="2715" y="341" textLength="236" lengthAdjust="spacingAndGlyphs">本计划由易利项目管理软件编制</text>
<text class="wm" x="2715" y="359" textLength="304" lengthAdjust="spacingAndGlyphs">免费体验版有水印，租用和正式版显示正常</text>
<text class="wm" x="2715" y="377" textLength="281" lengthAdjust="spacingAndGlyphs">购买咨询电话:18675550537 QQ:22150066</text>
<text class="wm" x="3215" y="341" textLength="236" lengthAdjust="spacingAndGlyphs">本计划由易利项目管理软件编制</text>
<text class="wm" x="3215" y="359" textLength="304" lengthAdjust="spacingAndGlyphs">免费体验版有水印，租用和正式版显示正常</text>
<text class="wm" x="3215" y="377" textLength="281" lengthAdjust="spacingAndGlyphs">购买咨询电话:18675550537 QQ:22150066</text>
<text class="wm" x="215" y="540" textLength="236" lengthAdjust="spacingAndGlyphs">本计划由易利项目管理软件编制</text>
<text class="wm" x="215" y="558" textLength="304" lengthAdjust="spacingAndGlyphs">免费体验版有水印，租用和正式版显示正常</text>
<text class="wm" x="215" y="576" textLength="281" lengthAdjust="spacingAndGlyphs">购买咨询电话:18675550537 QQ:22150066</text>
<text class="wm" x="715" y="540" textLength="236" lengthAdjust="spacingAndGlyphs">本计划由易利项目管理软件编制</text>
<text class="wm" x="715" y="558" textLength="304" lengthAdjust="spacingAndGlyphs">免费体验版有水印，租用和正式版显示正常</text>
<text class="wm" x="715" y="576" textLength="281" lengthAdjust="spacingAndGlyphs">购买咨询电话:18675550537 QQ:22150066</text>
<text class="wm" x="1215" y="540" textLength="236" lengthAdjust="spacingAndGlyphs">本计划由易利项目管理软件编制</text>
<text class="wm" x="1215" y="558" textLength="304" lengthAdjust="spacingAndGlyphs">免费体验版有水印，租用和正式版显示正常</text>
<text class="wm" x="1215" y="576" textLength="281" lengthAdjust="spacingAndGlyphs">购买咨询电话:18675550537 QQ:22150066</text>
<text class="wm" x="1715" y="540" textLength="236" lengthAdjust="spacingAndGlyphs">本计划由易利项目管理软件编制</text>
<text class="wm" x="1715" y="558" textLength="304" lengthAdjust="spacingAndGlyphs">免费体验版有水印，租用和正式版显示正常</text>
<text class="wm" x="1715" y="576" textLength="281" lengthAdjust="spacingAndGlyphs">购买咨询电话:18675550537 QQ:22150066</text>
<text class="wm" x="2215" y="540" textLength="236" lengthAdjust="spacingAndGlyphs">本计划由易利项目管理软件编制</text>
<text class="wm" x="2215" y="558" textLength="304" lengthAdjust="spacingAndGlyphs">免费体验版有水印，租用和正式版显示正常</text>
<text class="wm" x="2215" y="576" textLength="281" lengthAdjust="spacingAndGlyphs">购买咨询电话:18675550537 QQ:22150066</text>
<text class="wm" x="2715" y="540" textLength="236" lengthAdjust="spacingAndGlyphs">本计划由易利项目管理软件编制</text>
<text class="wm" x="2715" y="558" textLength="304" lengthAdjust="spacingAndGlyphs">免费体验版有水印，租用和正式版显示正常</text>
<text class="wm" x="2715" y="576" textLength="281" lengthAdjust="spacingAndGlyphs">购买咨询电话:18675550537 QQ:22150066</text>
<text class="wm" x="3215" y="540" textLength="236" lengthAdjust="spacingAndGlyphs">本计划由易利项目管理软件编制</text>
<text class="wm" x="3215" y="558" textLength="304" lengthAdjust="spacingAndGlyphs">免费体验版有水印，租用和正式版显示正常</text>
<text class="wm" x="3215" y="576" textLength="281" lengthAdjust="spacingAndGlyphs">购买咨询电话:18675550537 QQ:22150066</text>
</g>
</svg>
